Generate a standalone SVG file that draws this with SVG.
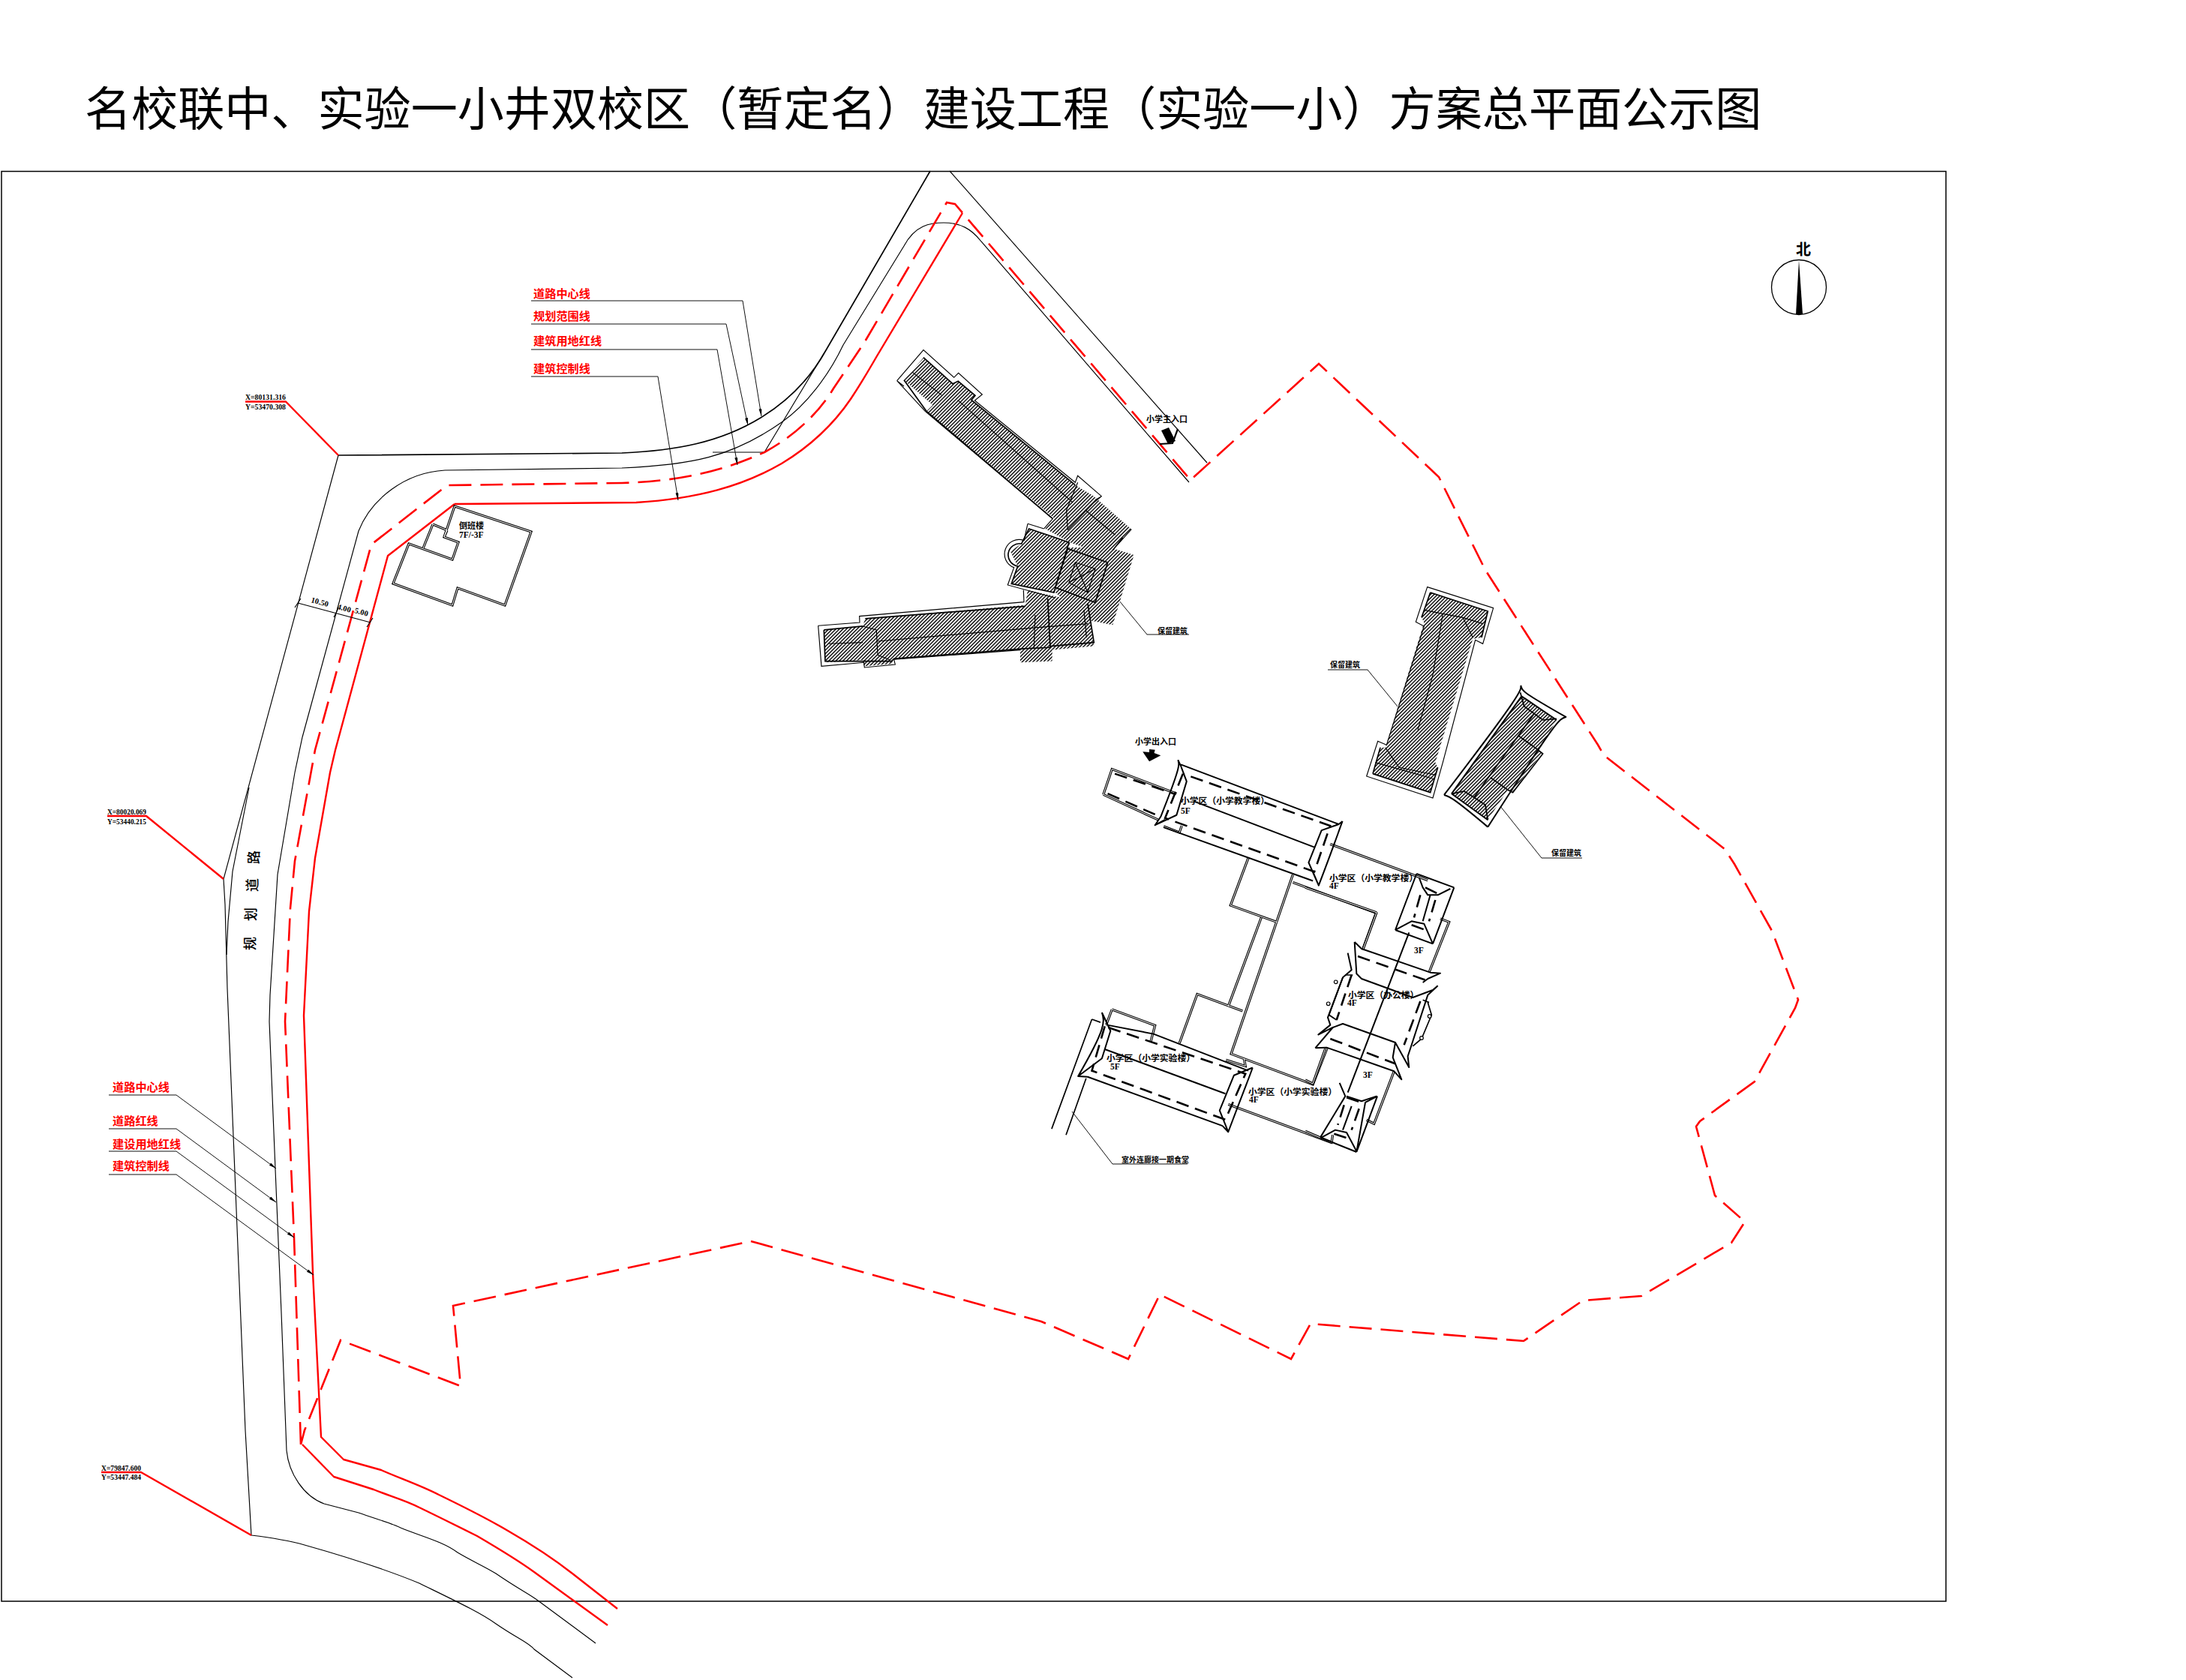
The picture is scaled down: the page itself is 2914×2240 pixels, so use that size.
<svg xmlns="http://www.w3.org/2000/svg" width="2914" height="2240" viewBox="0 0 2914 2240">
<style>
text{font-family:"Noto Sans CJK SC","Liberation Sans",sans-serif;fill:#000}
path,polygon,polyline,circle{vector-effect:non-scaling-stroke}
.ttl{font-size:62.1px}
.rl{font-size:15.2px;font-weight:700;fill:#f00}
.bl{font-size:11.8px;font-weight:700}
.sm{font-size:10px;font-weight:700}
.co{font-family:"Liberation Serif",serif;font-size:10.5px;font-weight:700}
.fl{font-family:"Liberation Serif",serif;font-size:11.5px;font-weight:700}
.ln{fill:none;stroke:#000;stroke-width:1.15}
.lh{fill:none;stroke:#000;stroke-width:1.7}
.th{fill:none;stroke:#000;stroke-width:2;stroke-linejoin:round}
.ld{fill:none;stroke:#111;stroke-width:1}
.rs{fill:none;stroke:#f00;stroke-width:2.4;stroke-linejoin:round}
.rd{fill:none;stroke:#f00;stroke-width:2.6;stroke-dasharray:30 12}
.kd{fill:none;stroke:#000;stroke-width:2.6;stroke-dasharray:17 9}
.d1{fill:none;stroke:#000;stroke-width:3.2;stroke-linejoin:miter}
.d2{fill:none;stroke:#fff;stroke-width:1}
.ha{fill:url(#hatch);stroke:none}
</style>
<defs>
<pattern id="hatch" patternUnits="userSpaceOnUse" width="10" height="10" patternTransform="rotate(45)">
<rect width="10" height="10" fill="#fff"/><rect width="4.2" height="10" fill="#000"/>
</pattern>
<marker id="ah" viewBox="0 0 10 4" refX="10" refY="2" markerWidth="10" markerHeight="4" markerUnits="userSpaceOnUse" orient="auto"><path d="M0 0L10 2L0 4Z" fill="#000"/></marker>
<path id="wA" d="M185 268L215 185L440 265M185 268L375 350M395 372L450 392L458 370M975 430L1315 548M690 475L628 630L790 685M735 670L620 960M845 530L630 1115L915 1215L965 1095M845 555L1135 655L1090 770M450 1080L512 920L670 975M215 970L365 1022L350 1075M215 970L195 1020M612 1135L680 1155L675 1130M620 1280L980 1405"/>
<path id="wB" d="M540 225L575 238L495 440M285 200L230 350M80 745L30 885L0 870M355 835L275 1045L245 1030M0 1075L105 1120L110 1090M0 100L285 200"/>
<path id="wC" d="M606 675L708 709L673 807L610 784L603 807L524 778L545 725L603 746L611 723L592 716ZM592 716L596 707M577 699L564 731M577 699L596 707"/>
</defs>

<g id="frame"><rect x="2" y="228.500" width="2592" height="1906.500" fill="none" stroke="#000" stroke-width="1.5"/></g>
<g id="title"><text class="ttl" x="113" y="168">名校联中、实验一小井双校区（暂定名）建设工程（实验一小）方案总平面公示图</text></g>

<g id="roads">
<path class="lh" d="M451 607L829 604C900 601 960 590 1014 557C1050 535 1080 505 1101 467L1240 228"/>
<path class="ln" d="M1266 228L1609 617"/>
<path class="ln" d="M451 607L298 1172L300 1206L303 1318L313 1563L327 1907L335 2047C360 2050 385 2054 406 2060C470 2078 520 2095 559 2111C610 2136 640 2150 661 2165C690 2185 705 2190 712 2199L763 2237"/>
<path class="ln" d="M332 1050L310 1162L304 1229L302 1273"/>
<path class="ln" d="M593 627L829 624C920 620 975 610 1042 563C1075 540 1105 500 1124 460L1205 328C1220 300 1240 297 1258 297C1280 297 1295 305 1308 322L1585 643"/>
<path class="ln" d="M593 627C540 630 495 665 478 708L403 983L393 1030L370 1166L360 1327L359 1362L367 1559L375 1750L382 1934C385 1965 405 1995 432 2005L478 2017C500 2025 520 2030 534 2037C560 2048 590 2055 610 2070C630 2082 645 2088 661 2098C690 2118 705 2125 717 2134L794 2191"/>
<path class="ln" d="M950 603L1019 603L1099 470"/>
<path class="rs" d="M606 672L848 670C930 665 990 648 1042 618C1085 592 1115 560 1134 532C1150 508 1160 490 1170 473L1283 284"/>
<path class="rs" d="M606 672L517 741L447 1000L440 1030L420 1144L412 1215L405 1354L417 1697L428 1916L458 1946L508 1960C530 1970 560 1980 585 1993C620 2010 650 2025 677 2041C710 2060 740 2080 763 2098L823 2145"/>
<path class="rs" d="M403 1926L445 1969L498 1986C520 1995 540 2000 559 2010C590 2025 610 2035 636 2048C665 2065 690 2080 712 2096L810 2167"/>
<path class="rd" d="M401 1926L392 1650L380 1362L387 1211L393 1148L420 1000L495 726L596 647L829 644C900 642 960 630 1019 603C1065 578 1095 545 1111 518L1152 457L1262 270L1273 272L1587 640L1758 485L1918 636L1980 760L2130 993L2138 1007L2210 1063L2299 1132L2312 1152L2362 1241L2397 1333L2393 1344L2339 1442L2266 1495L2261 1502L2286 1594L2326 1629L2308 1657L2188 1728L2110 1734L2031 1788L1747 1765L1721 1812L1546 1726L1504 1812L1388 1762L1001 1655L604 1741L614 1848L454 1787L406 1907L401 1926"/>
<path class="ln" d="M397 804L494 830M393 810L401 798M445 823L451 811M489 836L497 824"/>
</g>

<g id="labels-road">
<text class="rl" x="711" y="397">道路中心线</text>
<text class="rl" x="711" y="427">规划范围线</text>
<text class="rl" x="711" y="460">建筑用地红线</text>
<text class="rl" x="711" y="497">建筑控制线</text>
<text class="rl" x="150" y="1454.500">道路中心线</text>
<text class="rl" x="150" y="1500">道路红线</text>
<text class="rl" x="150" y="1530.500">建设用地红线</text>
<text class="rl" x="150" y="1559.500">建筑控制线</text>
<text class="co" x="327" y="533" textLength="54" lengthAdjust="spacingAndGlyphs">X=80131.316</text>
<text class="co" x="327" y="546" textLength="54" lengthAdjust="spacingAndGlyphs">Y=53470.308</text>
<text class="co" x="143" y="1086" textLength="52" lengthAdjust="spacingAndGlyphs">X=80020.069</text>
<text class="co" x="143" y="1099" textLength="52" lengthAdjust="spacingAndGlyphs">Y=53440.215</text>
<text class="co" x="135" y="1961" textLength="53" lengthAdjust="spacingAndGlyphs">X=79847.600</text>
<text class="co" x="135" y="1973" textLength="53" lengthAdjust="spacingAndGlyphs">Y=53447.484</text>
<text class="co" transform="translate(414 803) rotate(15)">10.50</text>
<text class="co" transform="translate(449 812) rotate(15)">4.00</text>
<text class="co" transform="translate(472 817) rotate(15)">5.00</text>
<text font-size="18" font-weight="500" transform="translate(345 1143) rotate(-90)" text-anchor="middle">路</text>
<text font-size="18" font-weight="500" transform="translate(343 1180) rotate(-90)" text-anchor="middle">道</text>
<text font-size="18" font-weight="500" transform="translate(341 1219) rotate(-90)" text-anchor="middle">划</text>
<text font-size="18" font-weight="500" transform="translate(340 1258) rotate(-90)" text-anchor="middle">规</text>
</g>

<g id="connectors">
<path class="ld" marker-end="url(#ah)" d="M708 401L990 401L1015 555"/>
<path class="ld" marker-end="url(#ah)" d="M708 432L968 432L997 567"/>
<path class="ld" marker-end="url(#ah)" d="M708 466L956 466L983 620"/>
<path class="ld" marker-end="url(#ah)" d="M708 502L877 502L904 667"/>
<path class="ld" marker-end="url(#ah)" d="M145 1460L235 1460L368 1558"/>
<path class="ld" marker-end="url(#ah)" d="M145 1505L235 1505L368 1603"/>
<path class="ld" marker-end="url(#ah)" d="M145 1535L235 1535L392 1650"/>
<path class="ld" marker-end="url(#ah)" d="M145 1566L235 1566L418 1700"/>
<path class="rs" d="M327 535.500L381 535.500L451 607"/>
<path class="rs" d="M143 1088L195 1088L298 1172"/>
<path class="rs" d="M135 1963L188 1963L335 2047"/>
<path class="ld" d="M1473 778L1529 846L1585 846"/>
<path class="ld" d="M1770 893L1823 893L1863 942"/>
<path class="ld" d="M2000 1075L2055 1144L2109 1144"/>
<path class="ld" d="M1429 1482L1483 1552L1583 1552"/>
</g>

<g id="north">
<circle cx="2398" cy="383" r="36.500" fill="none" stroke="#000" stroke-width="1.3"/>
<polygon points="2398,347 2394,419 2403,419" fill="#000"/>
<text x="2404" y="340" font-size="20" font-weight="700" text-anchor="middle">北</text>
</g>

<g id="dorm-building">
<use href="#wC" class="d1"/><use href="#wC" class="d2"/>
<text class="sm" x="612" y="705" style="font-size:11px">倒班楼</text>
<text class="fl" x="612" y="717">7F/-3F</text>
</g>

<g id="heritage-main" transform="translate(1050 440) scale(.3333)">
<polygon class="ha" points="543,110 660,215 682,205 750,262 735,280 1150,620 1225,665 1375,797 1280,905 1130,850 1030,795 1065,752 555,325 580,300 465,200"/>
<polygon class="ha" points="965,795 1130,850 1065,1050 895,1015 920,945 890,885 935,855"/>
<polygon class="ha" points="1115,870 1290,870 1385,900 1300,1180 1200,1160 1070,1050"/>
<polygon class="ha" points="145,1200 300,1185 310,1155 950,1100 960,1040 1200,1095 1225,1265 1058,1280 1058,1325 930,1330 930,1280 420,1315 420,1335 305,1345 300,1320 150,1330"/>
<path class="ln" d="M437 203L543 80L665 190L683 172L778 258L748 282L1150 610L1160 583L1255 665L1225 690M437 203L465 225M437 203L550 325L1060 755L1025 795M1255 665L1230 680M1340 830L1300 880L1375 797"/>
<path class="ln" d="M960 775L945 842A55 55 0 0 0 905 950L880 1020L1070 1072M960 775L1025 795"/>
<path class="ln" d="M122 1183L288 1170L287 1145L945 1088L943 1040M122 1183L135 1345L305 1330L307 1350L430 1338L425 1318L930 1280"/>
<path class="lh" d="M543 110L660 215L682 205L750 262L735 280L1150 620M465 200L555 325L1060 755"/>
<path class="lh" d="M965 795L1055 825L1125 850L1065 1050L895 1015L920 945A45 45 0 0 1 935 855Z"/>
<path class="lh" d="M1120 875L1280 930L1230 1090L1070 1030Z"/>
<path class="ln" d="M1150 930L1230 955L1200 1050L1125 1010ZM1150 930L1200 1050M1230 955L1125 1010"/>
<path class="lh" d="M145 1200L300 1185M310 1155L950 1105M145 1200L150 1325L415 1325L425 1315L945 1275L1050 1270L1040 1075M1200 1095L1225 1250L1050 1265"/>
<path class="ln" d="M165 1255L300 1250M360 1245L1000 1190L1200 1175M300 1185L355 1200L360 1300L410 1320M500 170L615 260M680 280L1140 690M1160 610L1115 720L1120 800M1225 690L1120 800M1190 720L1310 820M990 1140L985 1270M1185 1120L1195 1230"/>
</g>

<g id="heritage-east" transform="translate(1750 760) scale(.3333)">
<polygon class="ha" points="470,90 700,165 675,270 640,275 490,770 500,790 470,890 240,815 270,710 290,710 445,210 435,190"/>
<path class="ln" d="M458 68L722 152L680 295L650 280L520 770L480 912L215 825L260 685L295 700L445 225L412 208Z"/>
<path class="lh" d="M470 90L700 165L675 270M435 190L470 90M240 815L470 890L500 790M240 815L270 710"/>
<path class="ln" d="M445 160L520 175L600 190L680 215M520 175L480 420L420 640M600 190L640 270M290 710L345 790L490 820M250 770L480 835"/>
</g>

<g id="heritage-southeast" transform="translate(1750 760) scale(.3333)">
<polygon class="ha" points="835,505 975,600 905,720 915,735 800,885 780,880 700,1000 555,895"/>
<path class="th" d="M832 462C835 480 835 495 525 900M832 462C835 485 850 495 1012 588C985 595 975 600 700 1028M525 900C545 905 560 910 700 1028M835 505L555 895M555 895L700 1000M835 505L975 600"/>
<path class="lh" d="M830 490L845 545L920 600L975 595M555 895L605 885L645 910L690 940L700 1000M885 575L645 910M825 665L895 715L920 735L800 890L780 880M710 830L780 880"/>
</g>

<g id="school-west" transform="translate(1400 950) scale(.3827 .4082)">
<use href="#wA" class="d1"/><use href="#wA" class="d2"/>
<path class="th" d="M455 170L1005 365M395 375L915 550M500 290L920 440M445 155C450 170 455 175 385 340L365 368M445 155L455 175L475 225L440 335L365 368L400 350M1018 355L1005 365L945 385L900 490L935 565L915 520M1018 355C1000 400 990 430 935 565"/>
<path class="kd" d="M225 200L430 265M200 265L370 335M462 200L400 345L920 520L975 370L462 200"/>
<path class="th" d="M360 1050L690 1170M130 1190L600 1350M190 1100L610 1245M180 980L210 1040L180 1130L97 1188L130 1190M180 980C190 1010 195 1030 97 1188M705 1160L640 1185L590 1300L620 1370L600 1350M705 1160C690 1200 680 1220 620 1370M195 1020L360 1050"/>
<path class="kd" d="M190 1025L145 1170L610 1330L680 1180L190 1025"/>
<path class="lh" d="M145 1002L5 1360M125 1195L55 1380M145 1002L175 1012"/>
<polygon points="322,128 345,130 345,120 365,122 362,132 385,140 345,160" fill="#000"/>
</g>

<g id="school-east" transform="translate(1740 1150) scale(.3333)">
<use href="#wB" class="d1"/><use href="#wB" class="d2"/>
<path class="th" d="M415 280L170 920"/>
<path class="th" d="M445 45L360 270M595 100L510 325M445 45L595 100M455 60L470 100L490 130L530 130L580 105M360 270L425 235L475 245L510 325M360 270L510 325M500 130L470 235"/>
<path class="th" d="M197 318L225 345L500 440L540 443L490 465L470 480M197 318L205 445L225 465L430 540L510 510L530 493M170 362L185 430L150 460L90 620L100 650L50 690M50 690L110 660L150 645L360 720L415 820M40 742L85 740L355 835L385 868L350 780L360 720M530 493L490 530L425 730L410 775L415 822M40 742L110 660"/>
<path class="kd" d="M210 375L480 470M185 450L125 630M100 705L360 805M460 555L395 730"/>
<path class="lh" d="M150 460L95 610L125 630M490 560L505 610L465 705L430 735M160 450L190 450M470 550L495 560"/>
<circle cx="122" cy="478" r="7" fill="#fff" stroke="#000" stroke-width="1.2"/><circle cx="92" cy="565" r="7" fill="#fff" stroke="#000" stroke-width="1.2"/><circle cx="497" cy="615" r="7" fill="#fff" stroke="#000" stroke-width="1.2"/><circle cx="465" cy="702" r="7" fill="#fff" stroke="#000" stroke-width="1.2"/>
<path class="th" d="M137 882L160 935L60 1100M288 935L240 960L205 1158M288 935L205 1158M165 935L225 955L285 935M65 1100L120 1070L165 1080L205 1155M60 1100L205 1158M185 975L150 1070"/>
<path class="kd" d="M155 970L130 1050M215 985L185 1070M165 940L225 960M115 1085L175 1105M460 130L435 220M520 150L495 235M480 100L530 125M425 250L480 270"/>
</g>

<g id="school-labels">
<text class="bl" x="1574" y="1072">小学区（小学教学楼）</text>
<text class="fl" x="1574" y="1085">5F</text>
<text class="bl" x="1772" y="1175">小学区（小学教学楼）</text>
<text class="fl" x="1772" y="1185">4F</text>
<text class="bl" x="1797" y="1331">小学区（办公楼）</text>
<text class="fl" x="1796" y="1341">4F</text>
<text class="fl" x="1885" y="1271">3F</text>
<text class="fl" x="1817" y="1437">3F</text>
<text class="bl" x="1475" y="1415">小学区（小学实验楼）</text>
<text class="fl" x="1480" y="1426">5F</text>
<text class="bl" x="1664" y="1460">小学区（小学实验楼）</text>
<text class="fl" x="1665" y="1470">4F</text>
<text class="bl" x="1513" y="993" style="font-size:11px">小学出入口</text>
<text class="bl" x="1528" y="563" style="font-size:11px">小学主入口</text>
<text class="sm" x="1495" y="1549.500">室外连廊接一期食堂</text>
<text class="sm" x="1543" y="845">保留建筑</text>
<text class="sm" x="1773" y="890">保留建筑</text>
<text class="sm" x="2068" y="1141">保留建筑</text>
</g>

<g id="main-entry-arrow">
<polygon points="1548,574 1558,570 1567,588 1557,592" fill="#000"/>
<path d="M1570 572L1563 591L1546 592" fill="none" stroke="#000" stroke-width="2.2"/>
</g>
</svg>
